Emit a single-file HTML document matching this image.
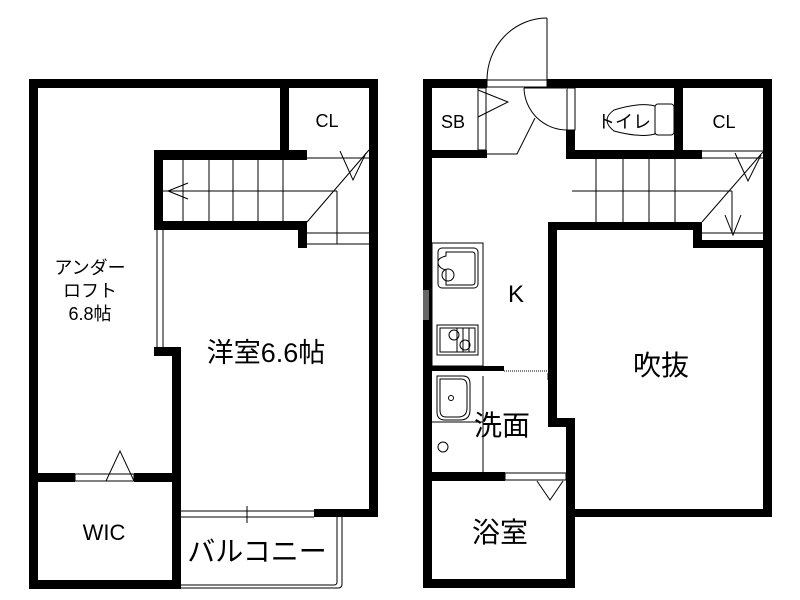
<!DOCTYPE html>
<html><head><meta charset="utf-8"><style>
html,body{margin:0;padding:0;background:#fff;}
svg{display:block;}
text{font-family:"Liberation Sans","Noto Sans CJK JP",sans-serif;fill:#000;}
</style></head><body>
<svg width="800" height="600" viewBox="0 0 800 600" xmlns="http://www.w3.org/2000/svg">
<g fill="#000">
<!-- LEFT UNIT -->
<rect x="29" y="79" width="349" height="9"/>
<rect x="29" y="79" width="9" height="510"/>
<rect x="369" y="79" width="9" height="438"/>
<rect x="280" y="79" width="9" height="78"/>
<rect x="154" y="150" width="153" height="10"/>
<rect x="154" y="150" width="9" height="80"/>
<rect x="154" y="221" width="153" height="9"/>
<rect x="298" y="221" width="9" height="27"/>
<rect x="154" y="347" width="27" height="9"/>
<rect x="172" y="347" width="9" height="242"/>
<rect x="29" y="473" width="46" height="9"/>
<rect x="134" y="473" width="47" height="9"/>
<rect x="29" y="580" width="152" height="9"/>
<rect x="314" y="509" width="64" height="8"/>
<!-- RIGHT UNIT -->
<rect x="423" y="79" width="64" height="9"/>
<rect x="547" y="79" width="225" height="9"/>
<rect x="423" y="79" width="9" height="509"/>
<rect x="763" y="79" width="9" height="438"/>
<rect x="423" y="150" width="64" height="8"/>
<rect x="566" y="130" width="9" height="29"/>
<rect x="674" y="79" width="9" height="79"/>
<rect x="566" y="150" width="136" height="9"/>
<rect x="548" y="222" width="154" height="8"/>
<rect x="693" y="222" width="9" height="26"/>
<rect x="693" y="240" width="79" height="8"/>
<rect x="548" y="222" width="9" height="205"/>
<rect x="548" y="418" width="27" height="9"/>
<rect x="566" y="418" width="9" height="170"/>
<rect x="566" y="509" width="206" height="8"/>
<rect x="423" y="579" width="152" height="9"/>
<rect x="432" y="366" width="72" height="5"/>
<rect x="423" y="472" width="82" height="9"/>
</g>
<g fill="none" stroke="#000" stroke-width="1">
<!-- left stairs -->
<line x1="163" y1="191" x2="337" y2="191"/>
<line x1="183" y1="160" x2="183" y2="221"/>
<line x1="209" y1="160" x2="209" y2="221"/>
<line x1="233" y1="160" x2="233" y2="221"/>
<line x1="258" y1="160" x2="258" y2="221"/>
<line x1="283" y1="160" x2="283" y2="221"/>
<line x1="307" y1="158" x2="369" y2="158"/>
<line x1="307" y1="233" x2="369" y2="233"/>
<line x1="307" y1="244" x2="369" y2="244"/>
<line x1="337" y1="191" x2="337" y2="244"/>
<line x1="307" y1="222" x2="369" y2="150"/>
<polyline points="340,151 353,180 366,153"/>
<polyline points="188,183 168,191 188,199"/>
<line x1="157" y1="230" x2="157" y2="347"/>
<line x1="163" y1="230" x2="163" y2="347"/>
<rect x="75" y="474" width="59" height="7"/>
<polyline points="106,481 120,451 134,481"/>
<line x1="181" y1="511" x2="314" y2="511"/>
<line x1="181" y1="517" x2="314" y2="517"/>
<line x1="247" y1="506" x2="247" y2="523"/>
<path d="M181,588 H338 Q342,588 342,584 V517"/>
<path d="M181,585 H334 Q337,585 337,582 V517"/>
<!-- right: entry -->
<rect x="487" y="80" width="60" height="7"/>
<line x1="547" y1="18" x2="547" y2="80"/>
<path d="M487,80 A60,62 0 0 1 547,18"/>
<rect x="478" y="88" width="8" height="62"/>
<polyline points="478,90 508,102 478,117"/>
<line x1="524" y1="88" x2="566" y2="88"/>
<path d="M524,88 A43,43 0 0 0 567,130"/>
<polyline points="535,118 517,154 487,154"/>
<rect x="567" y="88" width="8" height="42"/>
<!-- toilet -->
<path d="M655,106 Q640,102 614,110 Q600,120 614,131 Q640,138 655,134 Z"/>
<rect x="655" y="104" width="19" height="31" rx="3"/>
<!-- right stairs -->
<line x1="572" y1="191" x2="732" y2="191"/>
<line x1="596" y1="159" x2="596" y2="222"/>
<line x1="623" y1="159" x2="623" y2="222"/>
<line x1="649" y1="159" x2="649" y2="222"/>
<line x1="675" y1="159" x2="675" y2="222"/>
<line x1="702" y1="151" x2="763" y2="151"/>
<line x1="702" y1="158" x2="763" y2="158"/>
<line x1="702" y1="233" x2="763" y2="233"/>
<line x1="732" y1="191" x2="732" y2="233"/>
<line x1="702" y1="222" x2="763" y2="152"/>
<polyline points="735,153 748,181 761,155"/>
<polyline points="725,215 733,235 741,215"/>
<!-- kitchen -->
<rect x="432" y="243" width="51" height="123"/>
<rect x="438" y="248" width="40" height="40" rx="4"/>
<path d="M446,252 H472 Q475,252 475,255 V282 Q475,285 472,285 H446 V270 Q438,268 438,262 Q438,258 446,256 Z"/>
<circle cx="448" cy="275" r="6"/>
<rect x="437" y="325" width="41" height="30"/>
<rect x="440" y="328" width="35" height="24"/>
<circle cx="454" cy="335" r="5"/>
<circle cx="465" cy="345" r="5"/>
<line x1="457" y1="328" x2="457" y2="352"/>
<line x1="463" y1="328" x2="463" y2="352"/>
<line x1="469" y1="328" x2="469" y2="352"/>
<line x1="504" y1="371" x2="548" y2="371" stroke-dasharray="1,1"/>
<line x1="548" y1="373" x2="548" y2="380"/>
<!-- wash -->
<path d="M437,376 H463 Q470,376 470,384 V410 Q470,420 460,420 H445 Q437,420 437,412 Z"/>
<path d="M440,379 H461 Q467,379 467,386 V408 Q467,417 458,417 H446 Q440,417 440,410 Z"/>
<circle cx="451" cy="398" r="2.5"/>
<line x1="432" y1="422" x2="483" y2="422"/>
<line x1="483" y1="376" x2="483" y2="472"/>
<circle cx="443" cy="447" r="5"/>
<rect x="505" y="473" width="61" height="7"/>
<polyline points="537,481 550,500 563,481"/>
</g>
<g fill="#ccc" opacity="0.5">
<rect x="423" y="290" width="6" height="30"/>
</g>
<text x="327" y="127" font-size="18" text-anchor="middle">CL</text>
<text x="90" y="274" font-size="18" text-anchor="middle">アンダー</text>
<text x="90" y="297" font-size="18" text-anchor="middle">ロフト</text>
<text x="90" y="320" font-size="18" text-anchor="middle">6.8帖</text>
<text x="266" y="362" font-size="27" text-anchor="middle">洋室6.6帖</text>
<text x="104" y="540" font-size="22" text-anchor="middle">WIC</text>
<text x="257" y="561" font-size="28" text-anchor="middle">バルコニー</text>
<text x="453" y="128" font-size="18" text-anchor="middle">SB</text>
<text x="624" y="128" font-size="18" text-anchor="middle">トイレ</text>
<text x="724" y="128" font-size="18" text-anchor="middle">CL</text>
<text x="516" y="302" font-size="24" text-anchor="middle">K</text>
<text x="661" y="375" font-size="28" text-anchor="middle">吹抜</text>
<text x="502" y="435" font-size="28" text-anchor="middle">洗面</text>
<text x="500" y="542" font-size="28" text-anchor="middle">浴室</text>
</svg>
</body></html>
